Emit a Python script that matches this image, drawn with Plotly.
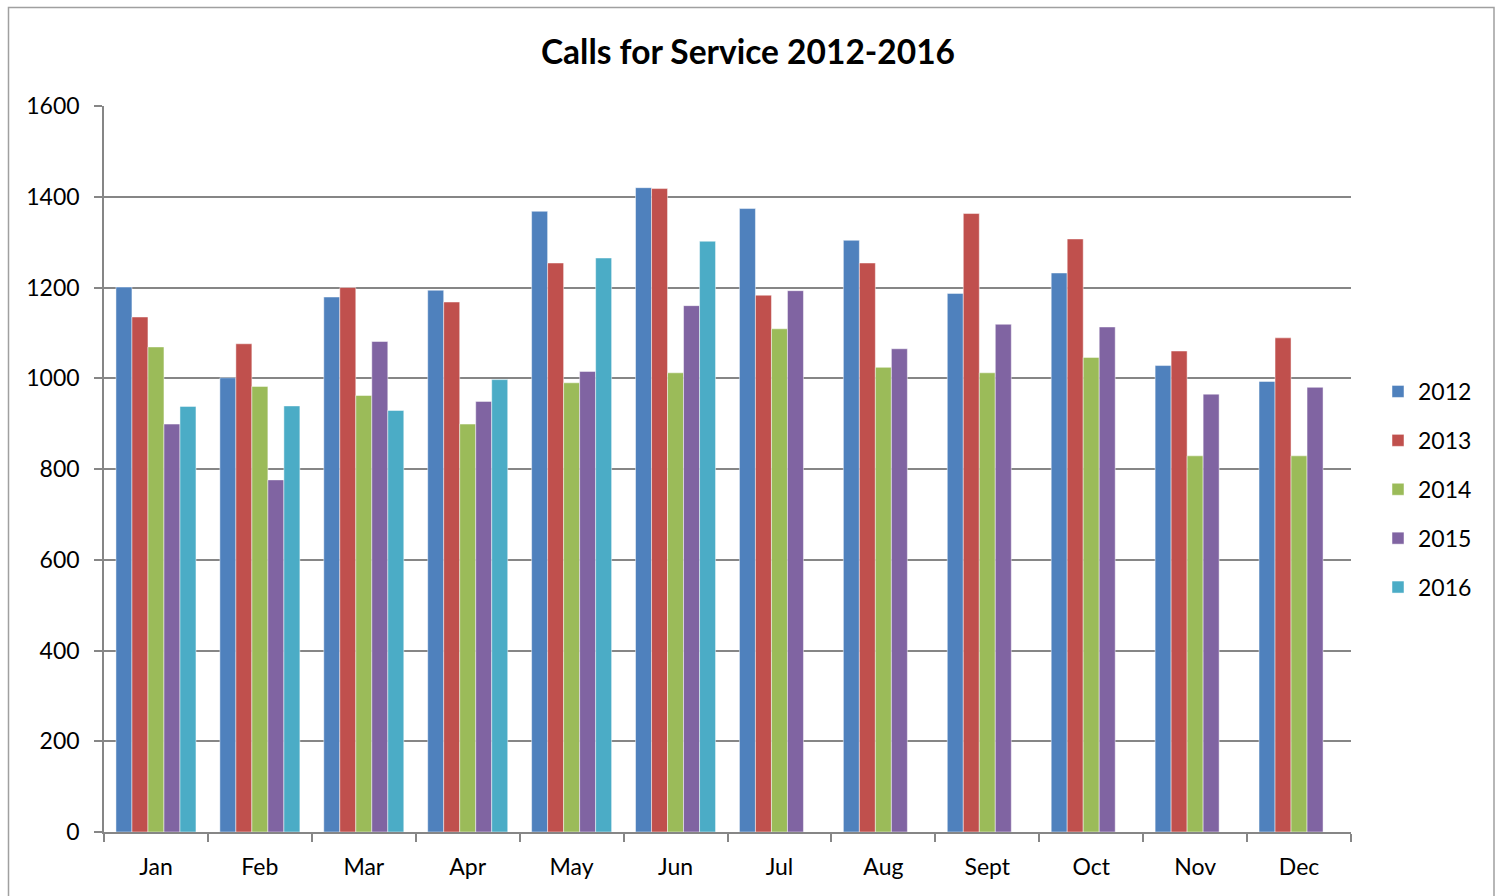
import plotly.graph_objects as go

months = ["Jan", "Feb", "Mar", "Apr", "May", "Jun", "Jul", "Aug", "Sept", "Oct", "Nov", "Dec"]
y2012 = [1201, 1001, 1179, 1194, 1368, 1420, 1374, 1304, 1187, 1232, 1028, 993]
y2013 = [1135, 1076, 1200, 1168, 1254, 1418, 1183, 1254, 1363, 1307, 1060, 1089]
y2014 = [1069, 982, 962, 899, 990, 1012, 1109, 1024, 1012, 1046, 829, 829]
y2015 = [899, 776, 1081, 949, 1015, 1160, 1193, 1065, 1119, 1113, 965, 980]
y2016 = [938, 939, 929, 997, 1265, 1302, None, None, None, None, None, None]

series = [("2012", y2012, "#4F81BD"), ("2013", y2013, "#C0504D"),
          ("2014", y2014, "#9BBB59"), ("2015", y2015, "#8064A2"),
          ("2016", y2016, "#4BACC6")]

FONT = "Lato, Open Sans, sans-serif"
GRID = "#868686"

fig = go.Figure()
for name, vals, color in series:
    fig.add_trace(go.Bar(x=months, y=vals, name=name, legendgroup=name,
                         marker=dict(color=color, line=dict(color="rgba(255,255,255,0.6)", width=0.8))))

L, R, T, B = 104, 145, 106, 64
W, H = 1496, 896
pw, ph = W - L - R, H - T - B

def px_x(p):
    return (p - L) / pw

def px_y(p):
    return (H - B - p) / ph

fig.update_layout(
    width=W, height=H,
    margin=dict(l=L, r=R, t=T, b=B),
    paper_bgcolor="white", plot_bgcolor="white",
    barmode="group", bargap=0.23, bargroupgap=0,
    font=dict(family=FONT, size=23, color="black"),
    title=dict(text="<b>Calls for Service 2012-2016</b>", x=0.5, xanchor="center",
               y=1 - 52 / H, yanchor="middle", font=dict(size=33.5, family=FONT)),
    xaxis=dict(type="category", showline=True, linecolor=GRID, linewidth=1.5,
               ticks="outside", tickson="boundaries", ticklen=8, tickcolor=GRID, tickwidth=1.5,
               showgrid=False, tickfont=dict(size=23), ticklabelstandoff=14),
    yaxis=dict(range=[0, 1600], dtick=200, showline=True, linecolor=GRID, linewidth=1.5,
               ticks="outside", ticklen=8, tickcolor=GRID, tickwidth=1.5,
               showgrid=True, gridcolor=GRID, gridwidth=1.5, zeroline=False,
               tickfont=dict(size=23), ticklabelstandoff=10),
    legend=dict(x=px_x(1378), y=px_y(370), xanchor="left", yanchor="top",
                traceorder="grouped", tracegroupgap=16, font=dict(size=23),
                itemwidth=30, bgcolor="rgba(0,0,0,0)"),
    shapes=[dict(type="rect", xref="paper", yref="paper",
                 x0=px_x(8.5), x1=px_x(1494), y0=px_y(900), y1=px_y(7.5),
                 line=dict(color="#A0A0A0", width=1.5), fillcolor="rgba(0,0,0,0)", layer="below")],
)

fig.write_html("out.html",
               config={"displayModeBar": False},
               post_script="document.body.style.margin='0';document.body.style.overflow='hidden';"
                           "document.documentElement.style.overflow='hidden';")
